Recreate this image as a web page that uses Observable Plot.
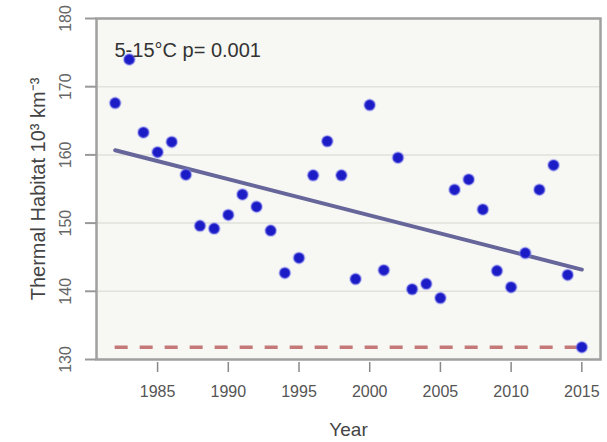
<!DOCTYPE html>
<html>
<head>
<meta charset="utf-8">
<script src="https://cdn.jsdelivr.net/npm/d3@7"></script>
<script src="https://cdn.jsdelivr.net/npm/@observablehq/plot@0.6"></script>
<style>
  html, body { margin: 0; padding: 0; background: #ffffff; }
  svg { display: block; }
</style>
</head>
<body>
<div id="chart"></div>
<script>
// Thermal habitat volume (5–15 °C layer), annual values
const years = [1982, 1983, 1984, 1985, 1986, 1987, 1988, 1989, 1990, 1991, 1992,
  1993, 1994, 1995, 1996, 1997, 1998, 1999, 2000, 2001, 2002, 2003, 2004, 2005,
  2006, 2007, 2008, 2009, 2010, 2011, 2012, 2013, 2014, 2015];
const habitat = [167.6, 174.0, 163.3, 160.4, 161.9, 157.1, 149.6, 149.2, 151.2,
  154.2, 152.4, 148.9, 142.7, 144.9, 157.0, 162.0, 157.0, 141.8, 167.3, 143.1,
  159.6, 140.3, 141.1, 139.0, 154.9, 156.4, 152.0, 143.0, 140.6, 145.6, 154.9,
  158.5, 142.4, 131.8];

const xTicks = [1985, 1990, 1995, 2000, 2005, 2010, 2015];
const yTicks = [130, 140, 150, 160, 170, 180];
const annotation = "5-15°C p= 0.001";
const xLabel = "Year";
const yLabel = "Thermal Habitat 10³ km⁻³";

const data = years.map((year, i) => ({year, value: habitat[i]}));
const lowest = d3.min(habitat);

// R-style padding of the year range
const span = d3.max(years) - d3.min(years);
const xDomain = [d3.min(years) - span * 0.04, d3.max(years) + span * 0.04];

const font = "'Liberation Sans', Arial, sans-serif";

const chart = Plot.plot({
  width: 607,
  height: 442,
  marginLeft: 96,
  marginRight: 7,
  marginTop: 18,
  marginBottom: 83,
  style: {fontFamily: font, background: "#ffffff"},
  x: {domain: xDomain, label: null},
  y: {domain: [130, 180], label: null},
  marks: [
    Plot.frame({fill: "#f7f8f3", stroke: null}),
    Plot.gridY(yTicks, {stroke: "#dcdcd6", strokeOpacity: 0.8, strokeWidth: 1.5}),
    Plot.ruleY([lowest], {
      x1: d3.min(years), x2: d3.max(years),
      stroke: "#c47878", strokeWidth: 3.5, strokeDasharray: "13,12"
    }),
    Plot.linearRegressionY(data, {
      x: "year", y: "value", ci: 0,
      stroke: "#66669a", strokeWidth: 4
    }),
    Plot.dot(data, {
      x: "year", y: "value", r: 5.5,
      fill: "#1c1cc6", stroke: "#8a8af0", strokeOpacity: 0.45, strokeWidth: 2
    }),
    Plot.frame({stroke: "#a0a0a0", strokeWidth: 2.5}),
    Plot.axisX(xTicks, {
      label: null, tickSize: 10, dy: 3, tickPadding: 13, fontSize: 16,
      color: "#555", stroke: "#888", strokeWidth: 1.5, tickFormat: d => String(d)
    }),
    Plot.axisY(yTicks, {
      label: null, tickSize: 11, stroke: "#999", strokeWidth: 2, tickFormat: () => ""
    }),
    Plot.text(yTicks, {
      y: d => d, text: d => String(d), frameAnchor: "left", dx: -31,
      rotate: -90, fontSize: 16, fill: "#666", textAnchor: "middle"
    }),
    Plot.text([yLabel], {
      frameAnchor: "left", dx: -58, rotate: -90, fontSize: 20,
      fill: "#444", textAnchor: "middle"
    }),
    Plot.text([xLabel], {
      frameAnchor: "bottom", dy: 76, fontSize: 19, fill: "#444", textAnchor: "middle"
    }),
    Plot.text([annotation], {
      frameAnchor: "top-left", dx: 18, dy: 24, fontSize: 20,
      fill: "#333", textAnchor: "start"
    })
  ]
});

document.getElementById("chart").appendChild(chart);
</script>
</body>
</html>
